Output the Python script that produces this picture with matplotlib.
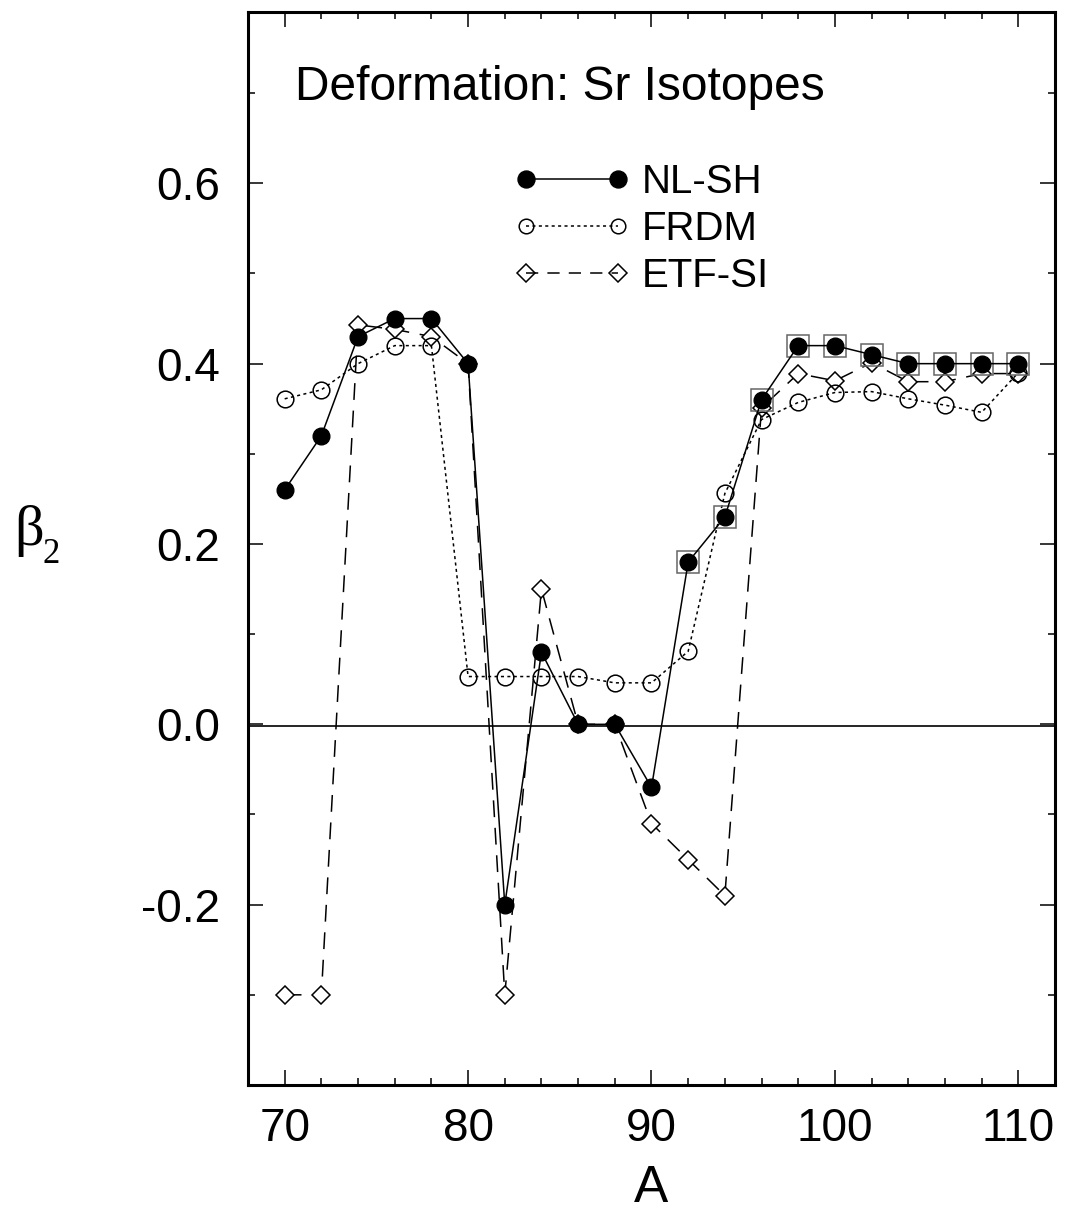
import matplotlib
matplotlib.use("Agg")
import matplotlib.pyplot as plt
from matplotlib.ticker import MultipleLocator
from matplotlib.lines import Line2D

plt.rcParams['font.family'] = ['Liberation Sans', 'DejaVu Sans']

# ---- data ----
A = [70, 72, 74, 76, 78, 80, 82, 84, 86, 88, 90, 92, 94, 96, 98, 100, 102, 104, 106, 108, 110]
nlsh = [0.26, 0.32, 0.43, 0.45, 0.45, 0.40, -0.20, 0.08, 0.0, 0.0, -0.07, 0.18, 0.23,
        0.36, 0.42, 0.42, 0.41, 0.40, 0.40, 0.40, 0.40]
frdm = [0.361, 0.371, 0.40, 0.42, 0.42, 0.053, 0.053, 0.053, 0.053, 0.046, 0.046, 0.081, 0.256,
        0.338, 0.357, 0.368, 0.369, 0.361, 0.354, 0.346, 0.39]
etfsi = [-0.30, -0.30, 0.443, 0.438, 0.43, 0.40, -0.30, 0.15, 0.0, 0.0, -0.11, -0.15, -0.19,
         0.351, 0.389, 0.381, 0.401, 0.38, 0.38, 0.389, 0.389]
boxed_A = [92, 94, 96, 98, 100, 102, 104, 106, 108, 110]
labels = ["NL-SH", "FRDM", "ETF-SI"]
title = "Deformation: Sr Isotopes"
xticks = [70, 80, 90, 100, 110]
yticks = [-0.2, 0.0, 0.2, 0.4, 0.6]

W, H = 1066, 1211
fig = plt.figure(figsize=(W / 100, H / 100), dpi=100)
ax = fig.add_axes([248 / W, 1 - 1085 / H, (1055 - 248) / W, (1085 - 12) / H])

ax.set_xlim(68, 112)
ax.set_ylim(-0.4, 0.79)

ax.axhline(-0.002, color='black', lw=1.2, zorder=1)

lw = 1.1
# ETF-SI
ax.plot(A, etfsi, color='black', lw=lw, linestyle=(0, (11, 7)), marker='D', markersize=9.5,
        markerfacecolor='white', markeredgecolor='black', markeredgewidth=1.1, zorder=2)
# FRDM
ax.plot(A, frdm, color='black', lw=lw, linestyle=(0, (2, 2.2)), marker='o', markersize=12,
        markerfacecolor='none', markeredgecolor='black', markeredgewidth=1.1, zorder=3)
# boxes around NL-SH points
bx = [a for a in A if a in boxed_A]
by = [v for a, v in zip(A, nlsh) if a in boxed_A]
ax.plot(bx, by, linestyle='none', marker='s', markersize=16.5, markerfacecolor='none',
        markeredgecolor='#666666', markeredgewidth=1.1, zorder=4)
# NL-SH
ax.plot(A, nlsh, color='black', lw=lw, linestyle='-', marker='o', markersize=12,
        markerfacecolor='black', markeredgecolor='black', zorder=5)

# ticks
ax.xaxis.set_minor_locator(MultipleLocator(2))
ax.yaxis.set_minor_locator(MultipleLocator(0.1))
ax.set_xticks(xticks)
ax.set_yticks(yticks)
ax.set_xticklabels([str(v) for v in xticks])
ax.set_yticklabels(["%.1f" % v for v in yticks])
ax.tick_params(which='both', direction='in', top=True, right=True, width=1.1)
ax.tick_params(which='major', length=10.5, labelsize=33)
ax.tick_params(which='minor', length=5)
ax.tick_params(axis='x', which='major', pad=16)
ax.tick_params(axis='y', which='major', pad=20)
for s in ax.spines.values():
    s.set_linewidth(2.2)

ax.set_xlabel("A", fontsize=37, labelpad=9)

ax.text(70.55, 0.692, title, fontsize=34.5, ha='left', va='baseline')

handles = [
    Line2D([], [], color='black', lw=lw, linestyle='-', marker='o', markersize=12.2,
           markerfacecolor='black'),
    Line2D([], [], color='black', lw=lw, linestyle=(0, (2, 2.2)), marker='o', markersize=10.5,
           markerfacecolor='none', markeredgewidth=1.1),
    Line2D([], [], color='black', lw=lw, linestyle=(0, (8, 6)), marker='D', markersize=9,
           markerfacecolor='none', markeredgewidth=1.1),
]
leg = ax.legend(handles, labels, loc='upper left', bbox_to_anchor=(514 / W, 1 - 163 / H),
                bbox_transform=fig.transFigure, frameon=False, fontsize=29, numpoints=2,
                handlelength=2.88, handletextpad=0.28, labelspacing=0.22, borderpad=0,
                borderaxespad=0)

fig.text(14 / W, 1 - 545 / H, "\u03b2", fontsize=42, family=['Liberation Serif', 'DejaVu Serif'],
         ha='left', va='baseline')
fig.text(42 / W, 1 - 563 / H, "2", fontsize=25, family=['Liberation Serif', 'DejaVu Serif'],
         ha='left', va='baseline')

fig.savefig("out.png", dpi=100)
